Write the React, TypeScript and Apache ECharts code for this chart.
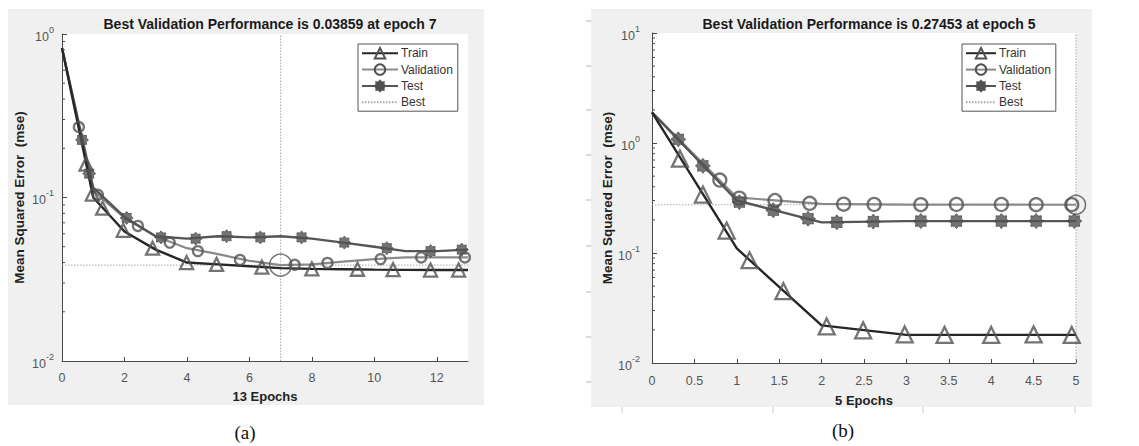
import React, { useEffect, useRef } from 'react';
import * as echarts from 'echarts';

// ---------- data ----------
const LEFT_EPOCHS = [0, 1, 2, 3, 4, 5, 6, 7, 8, 9, 10, 11, 12, 13];
const LEFT_TRAIN = [0.82, 0.1, 0.062, 0.048, 0.04, 0.039, 0.038, 0.037, 0.0366, 0.0364, 0.0362, 0.0361, 0.036, 0.036];
const LEFT_VAL = [0.82, 0.11, 0.075, 0.058, 0.049, 0.045, 0.041, 0.03859, 0.039, 0.0405, 0.042, 0.043, 0.043, 0.043];
const LEFT_TEST = [0.82, 0.115, 0.076, 0.058, 0.056, 0.058, 0.057, 0.058, 0.056, 0.053, 0.05, 0.047, 0.047, 0.048];

const LEFT_TRAIN_MX = [0.77, 0.97, 1.3, 1.96, 2.9, 3.99, 4.95, 6.4, 8.0, 9.46, 10.6, 11.8, 12.7];
const LEFT_TRAIN_MY = [0.16, 0.105, 0.086, 0.063, 0.049, 0.04, 0.039, 0.0375, 0.0366, 0.0364, 0.0362, 0.036, 0.036];
const LEFT_VAL_MX = [0.54, 1.15, 2.43, 3.45, 4.35, 5.7, 7.45, 8.5, 10.2, 11.5, 12.9];
const LEFT_VAL_MY = [0.27, 0.104, 0.067, 0.053, 0.047, 0.0415, 0.0388, 0.0398, 0.042, 0.043, 0.043];
const LEFT_TEST_MX = [0.64, 0.87, 2.07, 3.17, 4.28, 5.27, 6.35, 7.67, 9.04, 10.4, 11.8, 12.8];
const LEFT_TEST_MY = [0.225, 0.14, 0.075, 0.057, 0.056, 0.058, 0.057, 0.057, 0.053, 0.049, 0.047, 0.048];

const LEFT_BEST_EPOCH = 7;
const LEFT_BEST = 0.03859;

const RIGHT_EPOCHS = [0, 1, 2, 3, 4, 5];
const RIGHT_TRAIN = [1.9, 0.11, 0.022, 0.018, 0.018, 0.018];
const RIGHT_VAL = [1.9, 0.32, 0.28, 0.275, 0.275, 0.27453];
const RIGHT_TEST = [1.9, 0.3, 0.19, 0.195, 0.195, 0.195];

const RIGHT_TRAIN_MX = [0.33, 0.6, 0.88, 1.15, 1.55, 2.06, 2.49, 2.98, 3.45, 4.0, 4.5, 4.95];
const RIGHT_TRAIN_MY = [0.72, 0.34, 0.16, 0.086, 0.045, 0.0215, 0.0198, 0.0182, 0.018, 0.018, 0.0182, 0.018];
const RIGHT_VAL_MX = [0.8, 1.03, 1.45, 1.86, 2.26, 2.62, 3.17, 3.59, 4.12, 4.53, 4.95];
const RIGHT_VAL_MY = [0.46, 0.315, 0.3, 0.283, 0.278, 0.276, 0.275, 0.276, 0.276, 0.275, 0.275];
const RIGHT_TEST_MX = [0.31, 0.6, 1.03, 1.43, 1.84, 2.18, 2.61, 3.17, 3.59, 4.12, 4.53, 4.98];
const RIGHT_TEST_MY = [1.08, 0.62, 0.29, 0.245, 0.205, 0.19, 0.193, 0.195, 0.195, 0.195, 0.195, 0.195];

const RIGHT_BEST_EPOCH = 5;
const RIGHT_BEST = 0.27453;

const LEFT_MINOR = [0.02, 0.03, 0.04, 0.05, 0.06, 0.07, 0.08, 0.09, 0.2, 0.3, 0.4, 0.5, 0.6, 0.7, 0.8, 0.9];
const RIGHT_MINOR = [0.02, 0.03, 0.04, 0.05, 0.06, 0.07, 0.08, 0.09, 0.2, 0.3, 0.4, 0.5, 0.6, 0.7, 0.8, 0.9, 2, 3, 4, 5, 6, 7, 8, 9];

const LEFT_TITLE = 'Best Validation Performance is 0.03859 at epoch 7';
const RIGHT_TITLE = 'Best Validation Performance is 0.27453 at epoch 5';
const LEFT_XNAME = '13 Epochs';
const RIGHT_XNAME = '5 Epochs';
const YNAME = 'Mean Squared Error  (mse)';

// ---------- styling ----------
const SANS = '"Liberation Sans", Arial, Helvetica, sans-serif';
const SERIF = '"Liberation Serif", "Times New Roman", serif';
const AXIS = '#4a4a4a';
const MARK = '#515151';
const STAR =
  'path://M20 10 L16.65 12.76 L17.07 17.07 L12.76 16.65 L10 20 L7.24 16.65 L2.93 17.07 L3.35 12.76 L0 10 L3.35 7.24 L2.93 2.93 L7.24 3.35 L10 0 L12.76 3.35 L17.07 2.93 L16.65 7.24 Z';

const zip = (xs: number[], ys: number[]) => xs.map((x, i) => [x, ys[i]]);

function buildPanel(idx: number, cfg: any) {
  const { epochs, train, val, test, tmx, tmy, vmx, vmy, smx, smy, bestEpoch, best, xmax, mk, big } = cfg;
  const ax = { xAxisIndex: idx, yAxisIndex: idx };
  const hollow = (c: string) => ({ color: 'rgba(255,255,255,0)', borderColor: c, borderWidth: 2.3 });
  return [
    {
      ...ax, type: 'line', name: 'Validation', data: zip(epochs, val), showSymbol: false,
      symbol: 'circle', symbolSize: mk.c, itemStyle: hollow(MARK),
      lineStyle: { color: '#8a8a8a', width: 2.2 }, z: 3,
    },
    {
      ...ax, type: 'line', name: 'Test', data: zip(epochs, test), showSymbol: false,
      symbol: STAR, symbolSize: mk.s, itemStyle: { color: MARK, borderColor: MARK, borderWidth: 1 },
      lineStyle: { color: '#555', width: 2.4 }, z: 4,
    },
    {
      ...ax, type: 'line', name: 'Train', data: zip(epochs, train), showSymbol: false,
      symbol: 'triangle', symbolSize: mk.t, itemStyle: hollow(MARK),
      lineStyle: { color: '#262626', width: 2.4 }, z: 5,
    },
    {
      ...ax, type: 'line', name: 'Best', data: [[0, best], [xmax, best]], showSymbol: false,
      symbol: 'circle', symbolSize: 1, itemStyle: { color: '#aaa', opacity: 0 },
      lineStyle: { color: '#a8a8a8', width: 1, type: [1.5, 1.5] }, z: 2,
    },
    {
      ...ax, type: 'line', name: 'Best', data: [[bestEpoch, 0.01], [bestEpoch, cfg.ymax]], showSymbol: false,
      symbol: 'none', lineStyle: { color: '#a8a8a8', width: 1, type: [1.5, 1.5] }, z: 2,
    },
    {
      ...ax, type: 'scatter', name: 'val-marks', data: zip(vmx, vmy), symbol: 'circle',
      symbolSize: mk.c, itemStyle: hollow(MARK), z: 6, silent: true,
    },
    {
      ...ax, type: 'scatter', name: 'test-marks', data: zip(smx, smy), symbol: STAR,
      symbolSize: mk.s, itemStyle: { color: MARK, borderColor: MARK, borderWidth: 1 }, z: 6, silent: true,
    },
    {
      ...ax, type: 'scatter', name: 'train-marks', data: zip(tmx, tmy), symbol: 'triangle',
      symbolSize: mk.t, itemStyle: hollow(MARK), z: 7, silent: true,
    },
    {
      ...ax, type: 'scatter', name: 'best-point', data: [[bestEpoch, best]], symbol: 'circle',
      symbolSize: big, itemStyle: { color: 'rgba(255,255,255,0)', borderColor: MARK, borderWidth: 1.5 },
      z: 8, silent: true,
    },
    {
      ...ax, type: 'custom', name: 'minor', data: cfg.minor.map((v: number) => [0, v]), silent: true,
      encode: { x: 0, y: 1 }, clip: false, z: 9,
      renderItem: (_p: any, api: any) => {
        const p = api.coord([api.value(0), api.value(1)]);
        return {
          type: 'line',
          shape: { x1: p[0], y1: p[1], x2: p[0] + 3, y2: p[1] },
          style: { stroke: AXIS, lineWidth: 1 },
        };
      },
    },
  ];
}

const supLabel = (v: number) => '{b|10}{s|' + Math.round(Math.log10(v)) + '}';

function xAxis(idx: number, max: number, interval: number, name: string, gap: number, margin: number) {
  return {
    gridIndex: idx, type: 'value', min: 0, max, interval,
    axisLine: { lineStyle: { color: AXIS, width: 1 } },
    axisTick: { inside: true, length: 4, lineStyle: { color: AXIS } },
    axisLabel: { color: '#555', fontSize: 12.5, fontFamily: SANS, margin, showMaxLabel: idx === 1 },
    splitLine: { show: false },
    name, nameLocation: 'middle', nameGap: gap,
    nameTextStyle: { color: '#222', fontSize: 13, fontWeight: 'bold', fontFamily: SANS },
  };
}

function yAxis(idx: number, max: number, margin: number, gap: number) {
  return {
    gridIndex: idx, type: 'log', logBase: 10, min: 0.01, max,
    axisLine: { show: true, lineStyle: { color: AXIS, width: 1 } },
    axisTick: { show: true, inside: true, length: 5, lineStyle: { color: AXIS } },
    axisLabel: {
      margin, formatter: supLabel,
      rich: {
        b: { color: '#555', fontSize: 12.5, fontFamily: SANS, lineHeight: 18, verticalAlign: 'bottom' },
        s: { color: '#555', fontSize: 9, fontFamily: SANS, lineHeight: 11, verticalAlign: 'top' },
      },
    },
    splitLine: { show: false },
    name: YNAME, nameLocation: 'middle', nameGap: gap, nameRotate: 90,
    nameTextStyle: { color: '#222', fontSize: 13.5, fontWeight: 'bold', fontFamily: SANS },
  };
}

function legend(left: number, itemWidth: number) {
  return {
    orient: 'vertical', left, top: 44, padding: [3, 5, 3, 3], itemWidth, itemHeight: 13, itemGap: 4,
    borderColor: '#555', borderWidth: 1, backgroundColor: '#fff', selectedMode: false,
    textStyle: { color: '#333', fontSize: 12, fontFamily: SANS, padding: [0, 0, 0, -2] },
    data: ['Train', 'Validation', 'Test', { name: 'Best', itemStyle: { opacity: 0 } }],
  };
}

export default function App() {
  const ref = useRef<HTMLDivElement>(null);
  useEffect(() => {
    if (!ref.current) return;
    const chart = echarts.init(ref.current, undefined, { renderer: 'svg' });
    const leftSeries = buildPanel(0, {
      epochs: LEFT_EPOCHS, train: LEFT_TRAIN, val: LEFT_VAL, test: LEFT_TEST,
      tmx: LEFT_TRAIN_MX, tmy: LEFT_TRAIN_MY, vmx: LEFT_VAL_MX, vmy: LEFT_VAL_MY,
      smx: LEFT_TEST_MX, smy: LEFT_TEST_MY, bestEpoch: LEFT_BEST_EPOCH, best: LEFT_BEST,
      xmax: 13, ymax: 1, mk: { t: 13, c: 10, s: 13 }, big: 22, minor: LEFT_MINOR,
    });
    const rightSeries = buildPanel(1, {
      epochs: RIGHT_EPOCHS, train: RIGHT_TRAIN, val: RIGHT_VAL, test: RIGHT_TEST,
      tmx: RIGHT_TRAIN_MX, tmy: RIGHT_TRAIN_MY, vmx: RIGHT_VAL_MX, vmy: RIGHT_VAL_MY,
      smx: RIGHT_TEST_MX, smy: RIGHT_TEST_MY, bestEpoch: RIGHT_BEST_EPOCH, best: RIGHT_BEST,
      xmax: 5, ymax: 10, mk: { t: 16, c: 13, s: 15 }, big: 19, minor: RIGHT_MINOR,
    });

    const artifactsY = [21, 66, 110, 155, 200, 246, 292, 337, 382];
    const artifactsX = [622, 773, 923, 1075];

    chart.setOption({
      animation: false,
      backgroundColor: '#ffffff',
      title: [
        { text: LEFT_TITLE, left: 265, top: 12, textAlign: 'center',
          textStyle: { color: '#1a1a1a', fontSize: 14, fontWeight: 'bold', fontFamily: SANS } },
        { text: RIGHT_TITLE, left: 864, top: 12, textAlign: 'center',
          textStyle: { color: '#1a1a1a', fontSize: 14, fontWeight: 'bold', fontFamily: SANS } },
      ],
      legend: [legend(358, 36), legend(962, 30)],
      grid: [
        { left: 62, top: 34, width: 406, height: 327, show: true, backgroundColor: '#fff', borderWidth: 0 },
        { left: 652, top: 33, width: 424, height: 330, show: true, backgroundColor: '#fff', borderWidth: 0 },
      ],
      xAxis: [
        xAxis(0, 13, 2, LEFT_XNAME, 29, 10),
        xAxis(1, 5, 0.5, RIGHT_XNAME, 31, 11),
      ],
      yAxis: [yAxis(0, 1, 8, 36), yAxis(1, 10, 12, 36)],
      graphic: [
        { type: 'rect', z: -10, shape: { x: 8, y: 9, width: 476, height: 396 }, style: { fill: '#f0f0f0' } },
        { type: 'rect', z: -10, shape: { x: 591, y: 9, width: 501, height: 398 }, style: { fill: '#f0f0f0' } },
        ...artifactsY.map((y) => ({
          type: 'line', z: -5, shape: { x1: 586, y1: y, x2: 591, y2: y }, style: { stroke: '#b5b5b5', lineWidth: 1 },
        })),
        ...artifactsX.map((x) => ({
          type: 'line', z: -5, shape: { x1: x, y1: 407, x2: x, y2: 413 }, style: { stroke: '#c8c8c8', lineWidth: 1 },
        })),
        { type: 'text', x: 245, y: 432, style: { text: '(a)', font: '19px ' + SERIF, fill: '#111', align: 'center', verticalAlign: 'middle' } },
        { type: 'text', x: 843, y: 430, style: { text: '(b)', font: '19px ' + SERIF, fill: '#111', align: 'center', verticalAlign: 'middle' } },
      ],
      series: [...leftSeries, ...rightSeries],
    });
    return () => chart.dispose();
  }, []);
  return <div ref={ref} style={{ position: 'fixed', left: 0, top: 0, width: 1139, height: 446 }} />;
}
